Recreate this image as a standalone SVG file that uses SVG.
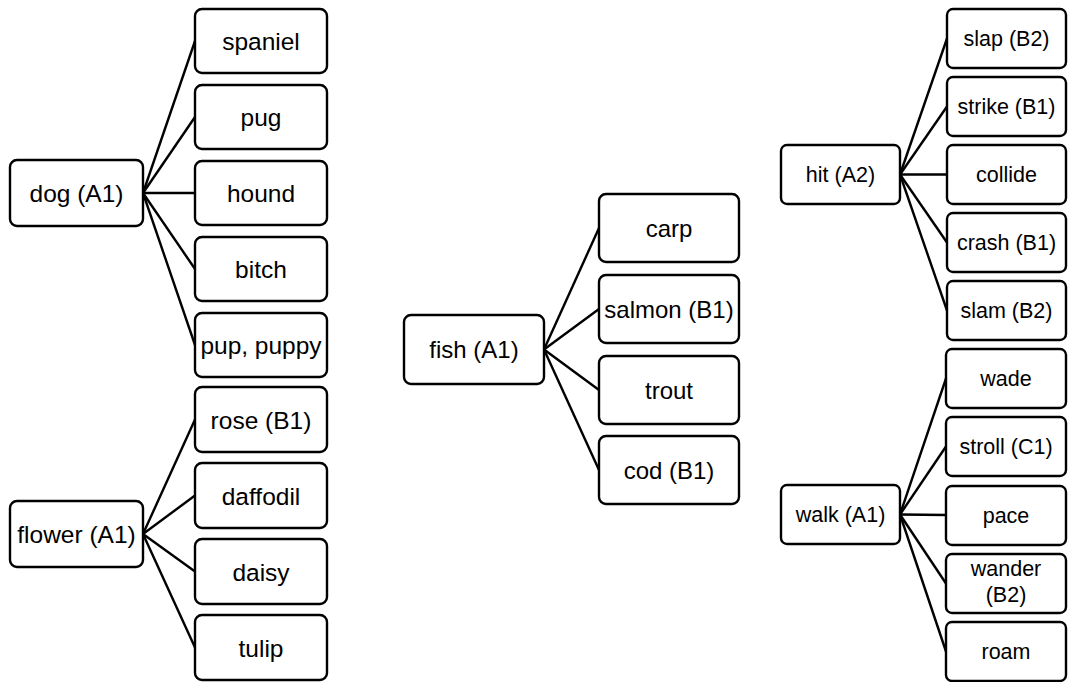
<svg xmlns="http://www.w3.org/2000/svg" width="1068" height="682" viewBox="0 0 1068 682">
  <style>
    rect { fill: #fff; stroke: #000; stroke-width: 2.4; }
    text { font-family: "Liberation Sans", Arial, sans-serif; fill: #000; text-anchor: middle; }
    .l { font-size: 24.5px; }
    .m { font-size: 24px; }
    .s { font-size: 21.5px; }
    #connectors line { stroke: #000; stroke-width: 2.4; }
  </style>
  <rect x="0" y="0" width="1068" height="682" style="stroke:none"/>

  <g id="connectors">
    <!-- dog -->
    <line x1="143" y1="193" x2="195" y2="41"/>
    <line x1="143" y1="193" x2="195" y2="117"/>
    <line x1="143" y1="193" x2="195" y2="193"/>
    <line x1="143" y1="193" x2="195" y2="269"/>
    <line x1="143" y1="193" x2="195" y2="345"/>
    <!-- flower -->
    <line x1="143" y1="534" x2="195" y2="419.5"/>
    <line x1="143" y1="534" x2="195" y2="495.5"/>
    <line x1="143" y1="534" x2="195" y2="571.5"/>
    <line x1="143" y1="534" x2="195" y2="647.5"/>
    <!-- fish -->
    <line x1="544" y1="349.5" x2="599" y2="228"/>
    <line x1="544" y1="349.5" x2="599" y2="309"/>
    <line x1="544" y1="349.5" x2="599" y2="390"/>
    <line x1="544" y1="349.5" x2="599" y2="470"/>
    <!-- hit -->
    <line x1="900" y1="174.5" x2="947" y2="38.5"/>
    <line x1="900" y1="174.5" x2="947" y2="106.5"/>
    <line x1="900" y1="174.5" x2="947" y2="174.5"/>
    <line x1="900" y1="174.5" x2="947" y2="242.5"/>
    <line x1="900" y1="174.5" x2="947" y2="310.5"/>
    <!-- walk -->
    <line x1="900" y1="514.5" x2="946" y2="378.5"/>
    <line x1="900" y1="514.5" x2="946" y2="446.5"/>
    <line x1="900" y1="514.5" x2="946" y2="515"/>
    <line x1="900" y1="514.5" x2="946" y2="583.5"/>
    <line x1="900" y1="514.5" x2="946" y2="651.5"/>
  </g>

  <!-- dog family -->
  <g id="dog"><rect x="10" y="160" width="133" height="66" rx="7"/><text class="l" x="76.5" y="202">dog (A1)</text></g>
  <g id="spaniel"><rect x="195" y="9" width="132" height="64" rx="7"/><text class="l" x="261" y="50">spaniel</text></g>
  <g id="pug"><rect x="195" y="85" width="132" height="64" rx="7"/><text class="l" x="261" y="126">pug</text></g>
  <g id="hound"><rect x="195" y="161" width="132" height="64" rx="7"/><text class="l" x="261" y="202">hound</text></g>
  <g id="bitch"><rect x="195" y="237" width="132" height="64" rx="7"/><text class="l" x="261" y="278">bitch</text></g>
  <g id="pup"><rect x="195" y="313" width="132" height="64" rx="7"/><text class="l" x="261" y="354">pup, puppy</text></g>

  <!-- flower family -->
  <g id="flower"><rect x="10" y="501" width="133" height="66" rx="7"/><text class="l" x="76.5" y="543">flower (A1)</text></g>
  <g id="rose"><rect x="195" y="387" width="132" height="65" rx="7"/><text class="l" x="261" y="428.5">rose (B1)</text></g>
  <g id="daffodil"><rect x="195" y="463" width="132" height="65" rx="7"/><text class="l" x="261" y="504.5">daffodil</text></g>
  <g id="daisy"><rect x="195" y="539" width="132" height="65" rx="7"/><text class="l" x="261" y="580.5">daisy</text></g>
  <g id="tulip"><rect x="195" y="615" width="132" height="65" rx="7"/><text class="l" x="261" y="656.5">tulip</text></g>

  <!-- fish family -->
  <g id="fish"><rect x="404" y="315" width="140" height="69" rx="7"/><text class="m" x="474" y="358">fish (A1)</text></g>
  <g id="carp"><rect x="599" y="194" width="140" height="68" rx="7"/><text class="m" x="669" y="237">carp</text></g>
  <g id="salmon"><rect x="599" y="275" width="140" height="68" rx="7"/><text class="m" x="669" y="318">salmon (B1)</text></g>
  <g id="trout"><rect x="599" y="356" width="140" height="68" rx="7"/><text class="m" x="669" y="399">trout</text></g>
  <g id="cod"><rect x="599" y="436" width="140" height="68" rx="7"/><text class="m" x="669" y="479">cod (B1)</text></g>

  <!-- hit family -->
  <g id="hit"><rect x="781" y="145" width="119" height="59" rx="6"/><text class="s" x="840.5" y="182">hit (A2)</text></g>
  <g id="slap"><rect x="947" y="9" width="119" height="59" rx="6"/><text class="s" x="1006.5" y="46">slap (B2)</text></g>
  <g id="strike"><rect x="947" y="77" width="119" height="59" rx="6"/><text class="s" x="1006.5" y="114">strike (B1)</text></g>
  <g id="collide"><rect x="947" y="145" width="119" height="59" rx="6"/><text class="s" x="1006.5" y="182">collide</text></g>
  <g id="crash"><rect x="947" y="213" width="119" height="59" rx="6"/><text class="s" x="1006.5" y="250">crash (B1)</text></g>
  <g id="slam"><rect x="947" y="281" width="119" height="59" rx="6"/><text class="s" x="1006.5" y="318">slam (B2)</text></g>

  <!-- walk family -->
  <g id="walk"><rect x="781" y="485" width="119" height="59" rx="6"/><text class="s" x="840.5" y="522">walk (A1)</text></g>
  <g id="wade"><rect x="946" y="349" width="120" height="59" rx="6"/><text class="s" x="1006" y="386">wade</text></g>
  <g id="stroll"><rect x="946" y="417" width="120" height="59" rx="6"/><text class="s" x="1006" y="454">stroll (C1)</text></g>
  <g id="pace"><rect x="946" y="486" width="120" height="59" rx="6"/><text class="s" x="1006" y="523">pace</text></g>
  <g id="wander"><rect x="946" y="554" width="120" height="59" rx="6"/><text class="s" x="1006" y="576">wander</text><text class="s" x="1006" y="602">(B2)</text></g>
  <g id="roam"><rect x="946" y="622" width="120" height="59" rx="6"/><text class="s" x="1006" y="659">roam</text></g>
</svg>
